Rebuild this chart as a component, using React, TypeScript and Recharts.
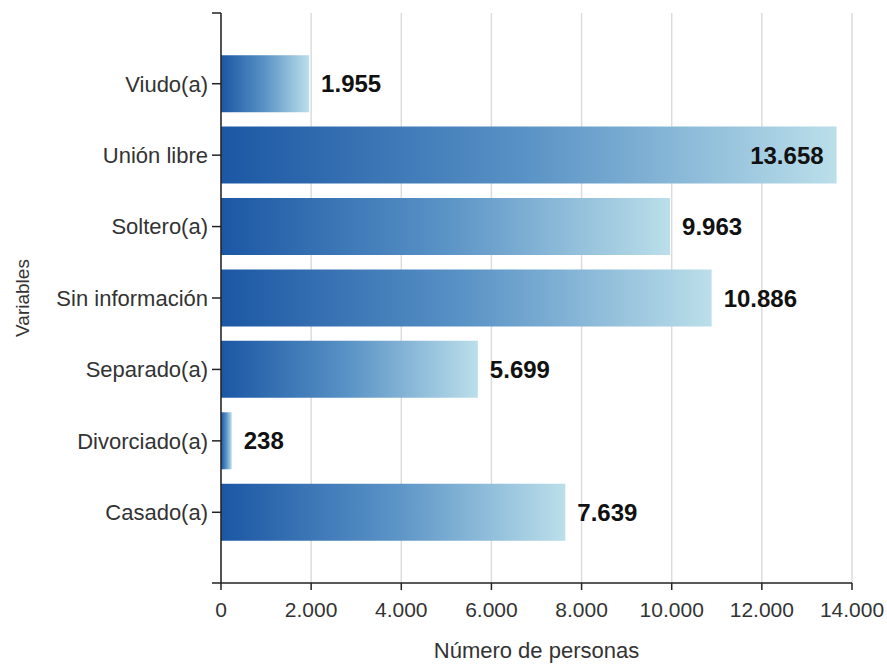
import React from "react";
import * as RC from "recharts";
import { BarChart, Bar, XAxis, YAxis, CartesianGrid, LabelList, Label } from "recharts";

const categories = [
  "Viudo(a)",
  "Unión libre",
  "Soltero(a)",
  "Sin información",
  "Separado(a)",
  "Divorciado(a)",
  "Casado(a)",
];
const personas = [1955, 13658, 9963, 10886, 5699, 238, 7639];
const xTicks = [0, 2000, 4000, 6000, 8000, 10000, 12000, 14000];

const data = categories.map((name, i) => ({ name, value: personas[i] }));
const xMax = xTicks[xTicks.length - 1];

const FONT = "'Liberation Sans', Arial, sans-serif";
const AXIS = "#222";

function fmt(v: number) {
  return String(v).replace(/\B(?=(\d{3})+(?!\d))/g, ".");
}

function ValueLabel(props: any) {
  const { x, y, width, height, value } = props;
  const inside = value / xMax > 0.85;
  const tx = inside ? x + width - 13 : x + width + 12;
  return (
    <text
      x={tx}
      y={y + height / 2}
      dy="0.36em"
      textAnchor={inside ? "end" : "start"}
      fontFamily={FONT}
      fontSize={24}
      fontWeight="bold"
      fill="#111"
    >
      {fmt(value)}
    </text>
  );
}

const usePlot: any = (RC as any).usePlotArea;

function AxisEnds() {
  const p = usePlot ? usePlot() : null;
  if (!p) return null;
  return (
    <g stroke={AXIS} strokeWidth={1.5}>
      <line x1={p.x - 9} y1={p.y} x2={p.x} y2={p.y} />
      <line x1={p.x - 9} y1={p.y + p.height} x2={p.x} y2={p.y + p.height} />
    </g>
  );
}

export default function App() {
  return (
    <div style={{ position: "absolute", left: 0, top: 0, background: "#fff" }}>
      <BarChart
        width={887}
        height={664}
        data={data}
        layout="vertical"
        margin={{ top: 13, right: 35, bottom: 0, left: 0 }}
        barCategoryGap="10%"
      >
        <defs>
          <linearGradient id="barGrad" x1="0" y1="0" x2="1" y2="0">
            <stop offset="0%" stopColor="#1b57a4" />
            <stop offset="50%" stopColor="#5a93c6" />
            <stop offset="100%" stopColor="#bbdfea" />
          </linearGradient>
        </defs>
        <CartesianGrid horizontal={false} stroke="#dcdcdc" strokeWidth={1.5} />
        <XAxis
          type="number"
          domain={[0, xMax]}
          ticks={xTicks}
          tickFormatter={fmt}
          height={81}
          tickSize={7}
          tickMargin={12}
          interval={0}
          stroke={AXIS}
          strokeWidth={1.5}
          tick={{ fontFamily: FONT, fontSize: 21, fill: "#333" }}
        >
          <Label
            content={(p: any) => (
              <text
                x={p.viewBox.x + p.viewBox.width / 2}
                y={p.viewBox.y + 67}
                dy="0.36em"
                textAnchor="middle"
                fontFamily={FONT}
                fontSize={22}
                fill="#333"
              >
                Número de personas
              </text>
            )}
          />
        </XAxis>
        <YAxis
          type="category"
          dataKey="name"
          width={221}
          tickSize={9}
          tickMargin={4}
          interval={0}
          padding={{ top: 35, bottom: 35 }}
          stroke={AXIS}
          strokeWidth={1.5}
          tick={{ fontFamily: FONT, fontSize: 22, fill: "#333" }}
        >
          <Label
            content={(p: any) => {
              const cx = p.viewBox.x + 22;
              const cy = p.viewBox.y + p.viewBox.height / 2;
              return (
                <text
                  x={cx}
                  y={cy}
                  dy="0.36em"
                  textAnchor="middle"
                  transform={`rotate(-90 ${cx} ${cy})`}
                  fontFamily={FONT}
                  fontSize={19}
                  fill="#333"
                >
                  Variables
                </text>
              );
            }}
          />
        </YAxis>
        <Bar dataKey="value" fill="url(#barGrad)" isAnimationActive={false}>
          <LabelList dataKey="value" content={<ValueLabel />} />
        </Bar>
        <AxisEnds />
      </BarChart>
    </div>
  );
}
